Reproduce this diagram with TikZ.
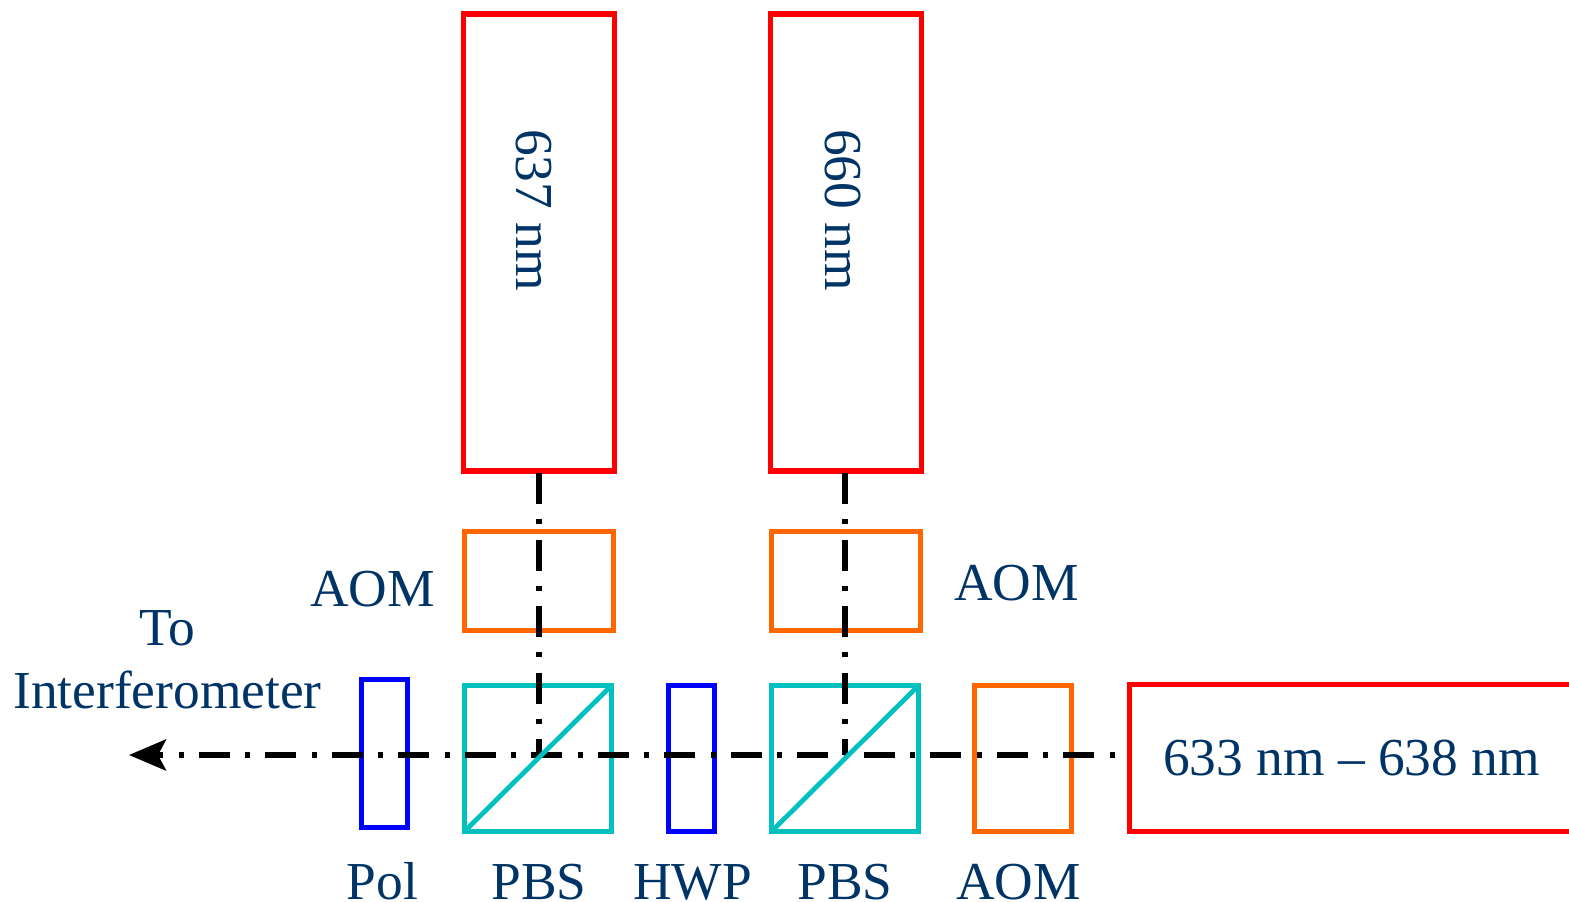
\documentclass[tikz,border=0pt]{standalone}
\usepackage{fontspec}
\setmainfont{Liberation Serif}
\usetikzlibrary{arrows.meta}

\definecolor{laser}{HTML}{FF0000}
\definecolor{aom}{HTML}{FF6600}
\definecolor{cube}{HTML}{00C0C0}
\definecolor{plate}{HTML}{0000FF}
\definecolor{caption}{HTML}{003366}

\tikzset{
    optic/.style={draw, line width=1.08mm, inner sep=0pt, outer sep=0pt},
    tag/.style={text=caption, inner sep=0pt, font=\fontsize{30.4}{35.8}\selectfont},
    beam/.style={line width=1.14mm, black, dash pattern=on 0.62cm off 0.3cm on 0.1cm off 0.31cm},
}

\begin{document}
\begin{tikzpicture}[x=0.02cm, y=-0.02cm]
\useasboundingbox (0,0) rectangle (1569,902);

% ---- Lasers ----
\node[optic, laser, minimum width=3.02cm, minimum height=9.14cm] (lasera) at (539,242.5) {};
\node[optic, laser, minimum width=3.02cm, minimum height=9.14cm] (laserb) at (846,242.5) {};
\node[optic, laser, minimum width=9.42cm, minimum height=2.94cm] (laserc) at (1365,758) {};

% ---- Modulators ----
\node[optic, aom, minimum width=2.98cm, minimum height=1.98cm] (aoma) at (539,581) {};
\node[optic, aom, minimum width=2.98cm, minimum height=1.98cm] (aomb) at (846,581) {};
\node[optic, aom, minimum width=1.94cm, minimum height=2.92cm] (aomc) at (1023,758.5) {};

% ---- Plates and cubes on the common line ----
\node[optic, plate, minimum width=0.92cm, minimum height=2.96cm] (pol) at (384.5,753.5) {};
\node[optic, plate, minimum width=0.92cm, minimum height=2.92cm] (hwp) at (691.5,758.5) {};
\node[optic, cube, minimum width=2.94cm, minimum height=2.92cm] (pbsa) at (538,758.5) {};
\node[optic, cube, minimum width=2.94cm, minimum height=2.92cm] (pbsb) at (845,758.5) {};

% ---- Beams ----
\coordinate (out) at (129,755);
\coordinate (inp) at (1129,755);
\coordinate (joina) at (539,755);
\coordinate (joinb) at (845,755);
\draw[beam, dash phase=0.63cm, -{Stealth[length=0.74cm, width=0.62cm, inset=0.16cm]}] (inp) -- (out);
\draw[beam, dash phase=1.28cm] (lasera.south -| joina) -- (joina);
\draw[beam, dash phase=1.28cm] (laserb.south -| joinb) -- (joinb);

% Cube diagonals
\draw[cube, line width=0.95mm, line cap=round] (pbsa.south west) -- (pbsa.north east);
\draw[cube, line width=0.95mm, line cap=round] (pbsb.south west) -- (pbsb.north east);

% ---- Labels ----
\node[tag, anchor=base, rotate=-90] (tagb) at (516,210) {637 nm};
\node[tag, anchor=base, rotate=-90] (tagd) at (825,210) {660 nm};
\node[tag, anchor=base] (tagl) at (372.5,606) {AOM};
\node[tag, anchor=base] (tagr) at (1016.5,600) {AOM};
\node[tag, align=center] (tagi) at (167.5,660) {To \\ Interferometer};
\node[tag, anchor=base] (tags) at (1351.5,775) {633 nm -- 638 nm};
\foreach \tname/\tx/\ttext in {
    tagpol/382.5/Pol, tagpa/539/PBS, taghwp/692.5/HWP, tagpb/845/PBS, tagaom/1018.5/AOM
}{
    \node[tag, anchor=base] (\tname) at (\tx,899) {\ttext};
}

\end{tikzpicture}
\end{document}
